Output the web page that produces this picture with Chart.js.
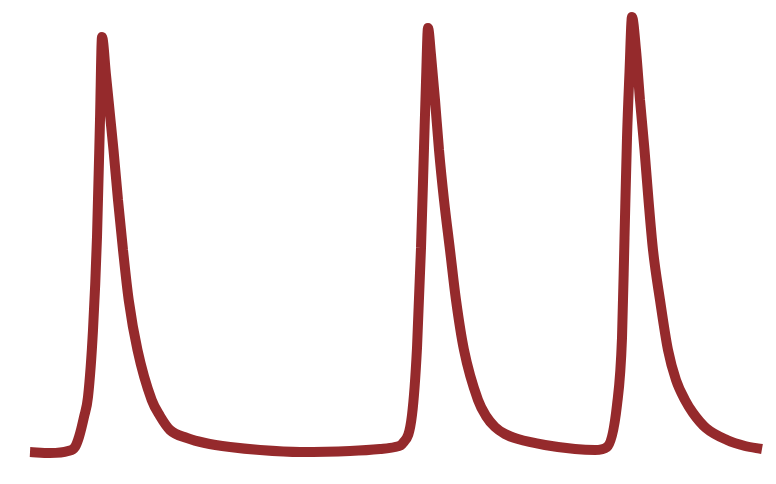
<!DOCTYPE html>
<html>
<head>
<meta charset="utf-8">
<script src="https://cdn.jsdelivr.net/npm/chart.js@4.4.0/dist/chart.umd.min.js"></script>
<style>
  html, body { margin: 0; padding: 0; background: #fff; }
  #wrap { width: 776px; height: 484px; position: relative; }
</style>
</head>
<body>
<div id="wrap"><canvas id="chart"></canvas></div>
<script>
// sample positions along the trace and the level at each one
const times = [0, 20, 38, 45, 49, 54, 58, 63, 67, 70, 72, 76, 80, 83.5, 88, 93, 98.7, 107.5, 121.7, 130, 140, 157, 175, 200, 230, 270, 320, 350, 365,
  373, 382, 387, 391, 394, 396, 398, 401, 405, 409, 414, 420, 426, 434, 448, 456, 465, 475, 488, 515, 545, 565,
  577, 587, 592, 594.5, 597, 599.5, 602, 606, 610, 614.5, 618.5, 623, 630, 638, 646, 655, 663, 676, 697, 715, 732];
const levels = [0, -1, 1, 5, 15, 35, 55, 122, 215, 332, 415, 377, 337, 302, 252, 202, 152, 102, 52, 36, 22, 14, 9, 5, 2, 0, 1, 3, 5,
  9, 37, 104, 204, 304, 370, 424, 397, 352, 302, 252, 202, 152, 102, 52, 36, 25, 18, 13, 7, 3, 2,
  5, 47, 114, 214, 314, 380, 435, 402, 352, 302, 252, 202, 152, 102, 72, 52, 39, 24, 12, 6, 3];

const points = times.map((t, i) => ({ x: t, y: levels[i] }));

new Chart(document.getElementById("chart"), {
  type: "line",
  data: {
    datasets: [
      {
        data: points,
        borderColor: "#952a2c",
        borderWidth: 10,
        borderJoinStyle: "bevel",
        pointRadius: 0,
        cubicInterpolationMode: "monotone",
        fill: false,
        clip: false,
      },
    ],
  },
  options: {
    responsive: true,
    maintainAspectRatio: false,
    animation: false,
    layout: { padding: { left: 30, right: 14, top: 17, bottom: 32 } },
    plugins: { legend: { display: false }, tooltip: { enabled: false } },
    scales: {
      x: { type: "linear", min: 0, max: 732, display: false },
      y: { min: 0, max: 435, display: false },
    },
  },
});
</script>
</body>
</html>
